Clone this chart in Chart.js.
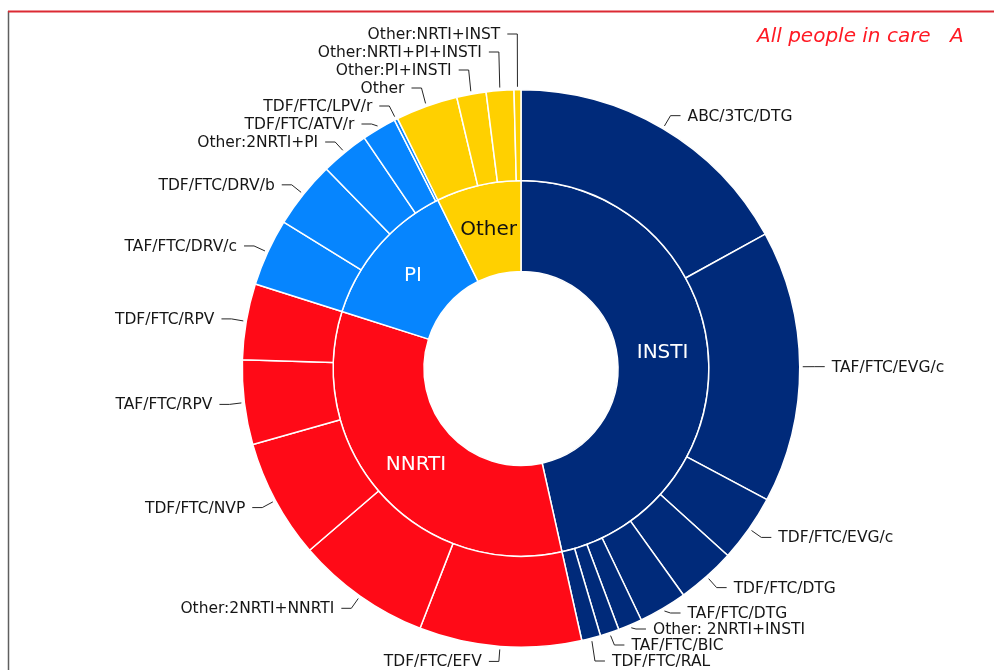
<!DOCTYPE html>
<html><head><meta charset="utf-8">
<script src="https://cdn.jsdelivr.net/npm/chart.js@4.4.1/dist/chart.umd.min.js"></script>
<style>html,body{margin:0;padding:0;background:#fff;overflow:hidden}#c{display:block}</style>
</head><body>
<canvas id="c" width="994" height="670"></canvas>
<script>
// ---- data (percent of people in care) ----
const groupLabels = ['INSTI', 'NNRTI', 'PI', 'Other'];
const groupValues = [46.5, 33.4, 12.8, 7.3];

const instiLabels = ['ABC/3TC/DTG', 'TAF/FTC/EVG/c', 'TDF/FTC/EVG/c', 'TDF/FTC/DTG', 'TAF/FTC/DTG', 'Other: 2NRTI+INSTI', 'TAF/FTC/BIC', 'TDF/FTC/RAL'];
const instiValues = [17.0, 15.8, 3.9, 3.4, 2.8, 1.4, 1.1, 1.1];

const nnrtiLabels = ['TDF/FTC/EFV', 'Other:2NRTI+NNRTI', 'TDF/FTC/NVP', 'TAF/FTC/RPV', 'TDF/FTC/RPV'];
const nnrtiValues = [9.4, 7.8, 6.9, 4.9, 4.4];

const piLabels = ['TAF/FTC/DRV/c', 'TDF/FTC/DRV/b', 'Other:2NRTI+PI', 'TDF/FTC/ATV/r', 'TDF/FTC/LPV/r'];
const piValues = [3.9, 3.9, 2.8, 2.0, 0.2];

const otherLabels = ['Other', 'Other:PI+INSTI', 'Other:NRTI+PI+INSTI', 'Other:NRTI+INST'];
const otherValues = [3.6, 1.7, 1.6, 0.4];

const titleText = 'All people in care';
const panelLetter = 'A';

// ---- styles ----
const groupColors = ['#002a7a', '#ff0a17', '#0685fe', '#ffd000'];
const groupTextColors = ['#ffffff', '#ffffff', '#ffffff', '#111111'];
const FONT = '"DejaVu Sans", Verdana, sans-serif';

const subLabels = [].concat(instiLabels, nnrtiLabels, piLabels, otherLabels);
const subValues = [].concat(instiValues, nnrtiValues, piValues, otherValues);
const subColors = [instiValues, nnrtiValues, piValues, otherValues]
  .map((arr, g) => arr.map(() => groupColors[g])).flat();

const decor = {
  id: 'decor',
  beforeDraw(chart) {
    const ctx = chart.ctx;
    ctx.save();
    ctx.fillStyle = '#ffffff';
    ctx.fillRect(0, 0, chart.width, chart.height);
    ctx.strokeStyle = '#5f5f5f';
    ctx.lineWidth = 1.5;
    ctx.beginPath(); ctx.moveTo(8.5, 11); ctx.lineTo(8.5, chart.height); ctx.stroke();
    ctx.strokeStyle = '#dc2a33';
    ctx.lineWidth = 2;
    ctx.beginPath(); ctx.moveTo(8, 11.5); ctx.lineTo(chart.width, 11.5); ctx.stroke();
    ctx.restore();
  },
  afterDatasetsDraw(chart) {
    const ctx = chart.ctx;
    ctx.save();
    // outer ring labels with leader lines
    const meta = chart.getDatasetMeta(0);
    const items = meta.data.map((arc, i) => {
      const p = arc.getProps(['x', 'y', 'startAngle', 'endAngle', 'outerRadius'], true);
      const a = (p.startAngle + p.endAngle) / 2;
      const R = p.outerRadius;
      return {
        i, right: Math.cos(a) >= 0,
        sx: p.x + (R + 3) * Math.cos(a), sy: p.y + (R + 3) * Math.sin(a),
        ex: p.x + (R + 15) * Math.cos(a), ey: p.y + (R + 15) * Math.sin(a)
      };
    });
    const right = items.filter(d => d.right).sort((a, b) => a.ey - b.ey);
    const left = items.filter(d => !d.right).sort((a, b) => b.ey - a.ey);
    const gapR = 16, gapL = 18, maxY = 661, minY = 34;
    for (let k = 1; k < right.length; k++) right[k].ey = Math.max(right[k].ey, right[k - 1].ey + gapR);
    if (right.length) {
      right[right.length - 1].ey = Math.min(right[right.length - 1].ey, maxY);
      for (let k = right.length - 2; k >= 0; k--) right[k].ey = Math.min(right[k].ey, right[k + 1].ey - gapR);
    }
    for (let k = 1; k < left.length; k++) left[k].ey = Math.min(left[k].ey, left[k - 1].ey - gapL);
    if (left.length) {
      left[left.length - 1].ey = Math.max(left[left.length - 1].ey, minY);
      for (let k = left.length - 2; k >= 0; k--) left[k].ey = Math.max(left[k].ey, left[k + 1].ey + gapL);
    }
    ctx.strokeStyle = '#262626';
    ctx.lineWidth = 1;
    ctx.font = '15.5px ' + FONT;
    ctx.fillStyle = '#161616';
    ctx.textBaseline = 'middle';
    items.forEach(d => {
      const dir = d.right ? 1 : -1;
      const hx = d.ex + dir * 10;
      ctx.beginPath();
      ctx.moveTo(d.sx, d.sy);
      ctx.lineTo(d.ex, d.ey);
      ctx.lineTo(hx, d.ey);
      ctx.stroke();
      ctx.textAlign = d.right ? 'left' : 'right';
      ctx.fillText(subLabels[d.i], hx + dir * 7, d.ey + 1);
    });
    // inner ring labels
    const meta1 = chart.getDatasetMeta(1);
    ctx.font = '20px ' + FONT;
    ctx.textAlign = 'center';
    meta1.data.forEach((arc, i) => {
      const pos = arc.tooltipPosition(true);
      ctx.fillStyle = groupTextColors[i];
      ctx.fillText(groupLabels[i], pos.x, pos.y);
    });
    // title
    ctx.font = 'italic 20px ' + FONT;
    ctx.fillStyle = '#ff1a24';
    ctx.textAlign = 'left';
    ctx.fillText(titleText, 757, 37);
    ctx.fillText(panelLetter, 950, 37);
    ctx.restore();
  }
};

new Chart(document.getElementById('c'), {
  type: 'doughnut',
  data: {
    labels: subLabels,
    datasets: [
      { data: subValues, backgroundColor: subColors, borderColor: '#ffffff', borderWidth: 1.5 },
      { data: groupValues, backgroundColor: groupColors, borderColor: '#ffffff', borderWidth: 1.5 }
    ]
  },
  options: {
    responsive: false,
    animation: false,
    events: [],
    cutout: '34.8%',
    layout: { padding: { top: 89, bottom: 22, left: 200, right: 152 } },
    plugins: { legend: { display: false }, tooltip: { enabled: false } }
  },
  plugins: [decor]
});
</script>
</body></html>
